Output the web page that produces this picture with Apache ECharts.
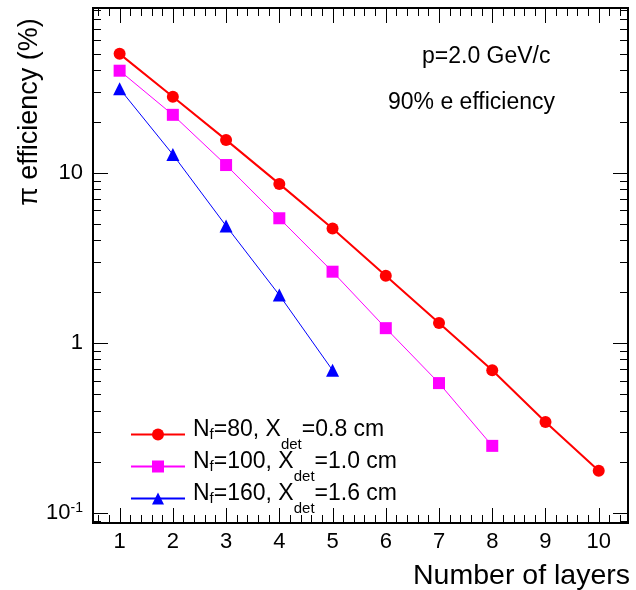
<!DOCTYPE html>
<html><head><meta charset="utf-8">
<script src="https://cdn.jsdelivr.net/npm/echarts@6/dist/echarts.min.js"></script>
<style>html,body{margin:0;padding:0;background:#fff}#c{width:636px;height:590px}</style>
</head><body><div id="c"></div>
<script>
// ---- data ----
const layers = [1, 2, 3, 4, 5, 6, 7, 8, 9, 10];
const effNf80  = [50, 28, 15.6, 8.6, 4.7, 2.48, 1.31, 0.69, 0.343, 0.177];
const effNf100 = [39.8, 21.9, 11.1, 5.4, 2.62, 1.22, 0.58, 0.248];
const effNf160 = [31.2, 12.8, 4.87, 1.91, 0.69];
const nfValues   = [80, 100, 160];
const xdetValues = ['0.8', '1.0', '1.6'];
const seriesColors = ['#ff0000', '#ff00ff', '#0000ff'];
const seriesSymbols = ['circle', 'rect', 'triangle'];
const yLabelValues = [0.1, 1, 10];
const annotations = ['p=2.0 GeV/c', '90% e efficiency'];
const xTitle = 'Number of layers';
const yTitle = 'π efficiency (%)';

// ---- axis ranges ----
const XMIN = 0.5, XMAX = 10.55, YMIN = 0.0873, YMAX = 93;
const FONT = '"Liberation Sans", Arial, Helvetica, sans-serif';

const allEff = [effNf80, effNf100, effNf160];
const names = nfValues.map((n, i) => 'Nf=' + n + ', Xdet=' + xdetValues[i] + ' cm');
const richName = {};
nfValues.forEach((n, i) => {
  richName[names[i]] = '{n0|N}{sf|f}{n|=' + n + ', X}{sd|det}{n|=' + xdetValues[i] + ' cm}';
});

// tick mark decorations (drawn through the axis scales)
const yTicks = [];
for (let e = -2; e <= 1; e++) for (let m = 1; m <= 9; m++) {
  const v = m * Math.pow(10, e);
  if (v >= YMIN && v <= YMAX) yTicks.push([XMIN, v, m === 1 ? 1 : 0]);
}
const xTicks = [];
for (let i = 1; i <= 60; i++) {
  const v = i / 5;
  if (v > XMIN && v < XMAX) xTicks.push([v, YMIN, i % 5 === 0 ? 1 : 0]);
}

const lineSeries = allEff.map((arr, i) => ({
  name: names[i],
  type: 'line',
  data: arr.map((v, k) => [layers[k], v]),
  symbol: seriesSymbols[i],
  symbolSize: i === 2 ? 13 : 12,
  color: seriesColors[i],
  lineStyle: { color: seriesColors[i], width: i === 0 ? 2 : 1 },
  itemStyle: { color: seriesColors[i] },
  z: 5,
  animation: false
}));

const chart = echarts.init(document.getElementById('c'), null, { renderer: 'canvas' });
chart.setOption({
  animation: false,
  backgroundColor: '#fff',
  grid: { left: 93, top: 8, right: 8, bottom: 67, show: true, borderColor: '#000', borderWidth: 2, backgroundColor: 'transparent' },
  xAxis: {
    type: 'value', min: XMIN, max: XMAX, interval: 0.5,
    axisLine: { show: false }, axisTick: { show: false }, splitLine: { show: false },
    axisLabel: {
      interval: 0, margin: 8, color: '#000', fontSize: 22, fontFamily: FONT,
      formatter: v => (Math.abs(v - Math.round(v)) < 1e-6 && layers.indexOf(Math.round(v)) >= 0) ? String(Math.round(v)) : ''
    }
  },
  yAxis: {
    type: 'log', logBase: 10, min: YMIN, max: YMAX,
    axisLine: { show: false }, axisTick: { show: false }, splitLine: { show: false }, minorTick: { show: false },
    axisLabel: {
      margin: 10, color: '#000', fontSize: 22, fontFamily: FONT,
      formatter: v => {
        const e = Math.log10(v);
        const r = Math.round(e);
        if (Math.abs(e - r) > 1e-6) return '';
        if (!yLabelValues.some(t => Math.abs(Math.log10(t) - r) < 1e-6)) return '';
        if (r < 0) return '{b|10}{sup|' + r + '}';
        return '{b|' + Math.round(Math.pow(10, r)) + '}';
      },
      rich: {
        b: { fontSize: 22, fontFamily: FONT, color: '#000' },
        sup: { fontSize: 14, fontFamily: FONT, color: '#000', padding: [0, 0, 9, 0] }
      }
    }
  },
  legend: {
    data: names, orient: 'vertical', left: 130, top: 418, itemWidth: 54, itemHeight: 15, itemGap: -2,
    padding: 0,
    formatter: name => richName[name],
    textStyle: {
      color: '#000', fontFamily: FONT, fontSize: 23,
      rich: {
        n0: { fontSize: 23, fontFamily: FONT, color: '#000', padding: [0, 0, 10, 3] },
        n: { fontSize: 23, fontFamily: FONT, color: '#000', padding: [0, 0, 10, 0] },
        sf: { fontSize: 15, fontFamily: FONT, color: '#000', padding: [1, 0, 0, 0] },
        sd: { fontSize: 15, fontFamily: FONT, color: '#000', padding: [20, 0, 0, 0] }
      }
    }
  },
  graphic: [
    { type: 'text', left: 422, top: 45, style: { text: annotations[0], font: '23px ' + FONT, fill: '#000' } },
    { type: 'text', left: 388, top: 91, style: { text: annotations[1], font: '23px ' + FONT, fill: '#000' } },
    { type: 'text', right: 6, top: 562, style: { text: xTitle, font: '28.5px ' + FONT, fill: '#000' } },
    { type: 'text', x: 30, y: 112, rotation: Math.PI / 2, style: { text: yTitle, font: '27px ' + FONT, fill: '#000', align: 'center', verticalAlign: 'middle' } }
  ],
  series: lineSeries.concat([
    {
      type: 'custom', silent: true, z: 3, data: yTicks,
      renderItem: (params, api) => {
        const v = api.value(1), major = api.value(2);
        const L = api.coord([XMIN, v]), R = api.coord([XMAX, v]);
        const len = major ? 15 : 8;
        const y = Math.round(L[1]) + 0.5;
        return { type: 'group', children: [
          { type: 'line', shape: { x1: L[0], y1: y, x2: L[0] + len, y2: y }, style: { stroke: '#000', lineWidth: 1 } },
          { type: 'line', shape: { x1: R[0], y1: y, x2: R[0] - len, y2: y }, style: { stroke: '#000', lineWidth: 1 } }
        ]};
      }
    },
    {
      type: 'custom', silent: true, z: 3, data: xTicks,
      renderItem: (params, api) => {
        const v = api.value(0), major = api.value(2);
        const B = api.coord([v, YMIN]), T = api.coord([v, YMAX]);
        const len = major ? 15 : 8;
        const x = Math.round(B[0]) + 0.5;
        return { type: 'group', children: [
          { type: 'line', shape: { x1: x, y1: B[1], x2: x, y2: B[1] - len }, style: { stroke: '#000', lineWidth: 1 } },
          { type: 'line', shape: { x1: x, y1: T[1], x2: x, y2: T[1] + len }, style: { stroke: '#000', lineWidth: 1 } }
        ]};
      }
    }
  ])
});
</script>
</body></html>
